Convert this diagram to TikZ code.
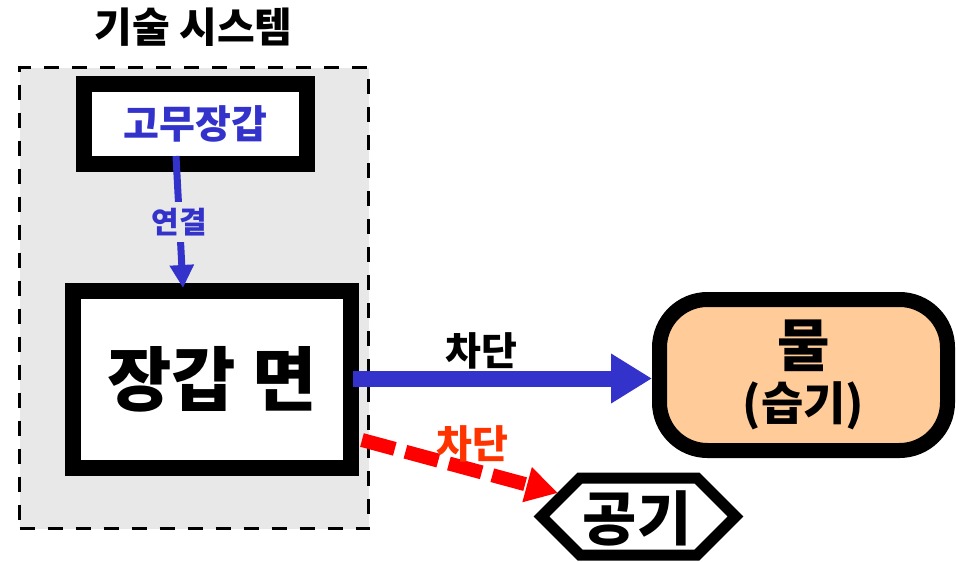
\documentclass[tikz,border=0pt]{standalone}
\usepackage{fontspec}
\setmainfont{Noto Sans CJK KR}
\usetikzlibrary{arrows.meta,calc}
\definecolor{kblue}{HTML}{3333CC}
\definecolor{kred}{HTML}{FF0000}
\definecolor{kredtxt}{HTML}{FF3300}
\definecolor{kpeach}{HTML}{FFCC99}
\definecolor{kgray}{HTML}{E8E8E8}
\newcommand{\kfs}[1]{\fontsize{#1}{#1}\selectfont}
\tikzset{
  thickbox/.style={draw=black, line width=16pt, fill=white, inner sep=0pt},
  sysbox/.style={draw=black, line width=3.5pt, fill=kgray, dash pattern=on 15pt off 13pt, inner sep=0pt},
  lbl/.style={font=\bfseries\kfs{39}, inner sep=0pt},
}
\begin{document}
\begin{tikzpicture}[x=1pt,y=-1pt]
\useasboundingbox (0,0) rectangle (959,562);
\fill[white] (0,0) rectangle (959,562);

\node[font=\bfseries\kfs{41}, inner sep=0pt] (title) at (193.5,27.5) {기술 시스템};
\node[sysbox, minimum width=349, minimum height=461] (sys) at (194,298) {};

\node[thickbox, minimum width=223, minimum height=80, font=\bfseries\kfs{39}, text=kblue] (gloves) at (195.5,123.5) {고무장갑};
\node[thickbox, minimum width=278, minimum height=177, font=\bfseries\kfs{70}] (face) at (212,379.5) {장갑 면};

\node[draw=black, line width=15pt, fill=kpeach, rounded corners=48pt, minimum width=288, minimum height=151, align=center, font=\bfseries\fontsize{46}{54}\selectfont] (water) at (803.5,375) {{\fontsize{57}{54}\selectfont 물}\\(습기)};

\node[font=\bfseries\kfs{59}, inner sep=0pt] (air) at (637,518) {공기};
\draw[line width=11pt, line join=miter] ($(air)+(-95.5,-1.5)$) -- ($(air)+(-57,-40)$) -- ($(air)+(60,-40)$) -- ($(air)+(98.5,-1.5)$) -- ($(air)+(60,37)$) -- ($(air)+(-57,37)$) -- cycle;

\draw[kblue, line width=7pt, -{Triangle[length=23pt,width=23pt]}] ($(gloves.center)+(-19.5,32.5)$) -- node[fill=kgray, text=kblue, font=\bfseries\kfs{30}, inner sep=6pt] (lab1) {연결} ($(face.north)+(-29,5)$);

\draw[kblue, line width=16pt, -{Triangle[length=41pt,width=47pt]}] ($(face.east)+(-6,-1)$) -- node[pos=0.43, yshift=28pt, lbl, text=black] (lab2) {차단} ($(face.east -| water.west)+(0,-1)$);

\draw[kred, line width=14pt, dash pattern=on 34pt off 11pt, -{Triangle[length=32pt,width=34pt]}] ($(face.east)+(3,60.5)$) -- node[pos=0.5, xshift=12pt, yshift=22.5pt, lbl, text=kredtxt] (lab3) {차단} ($(air)+(-79,-25)$);
\end{tikzpicture}
\end{document}
